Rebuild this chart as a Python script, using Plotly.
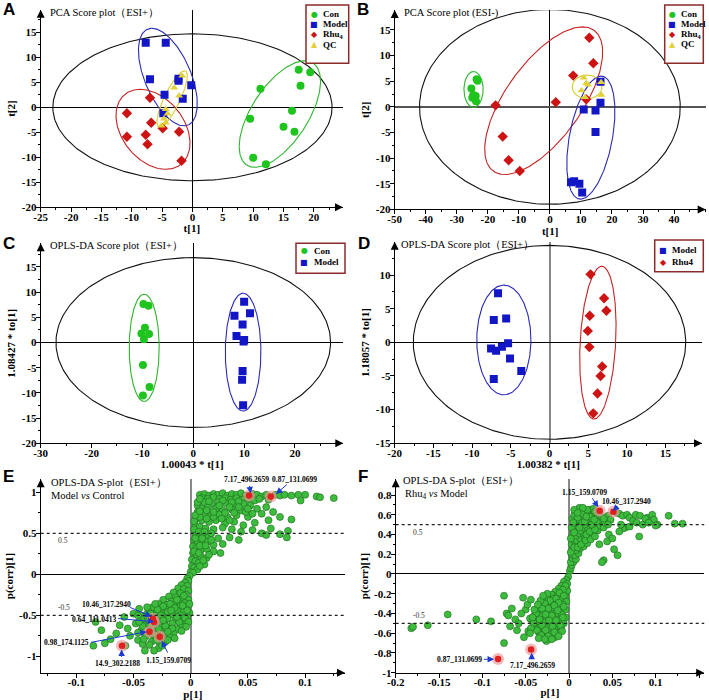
import numpy as np
import plotly.graph_objects as go

W, H = 709, 700
SERIF = "Liberation Serif"

# ---------------- A: PCA score plot (ESI+) ----------------
a_con_x = [17.5, 19.4, 11.2, 17.8, 16.4, 9.5, 15.0, 16.8, 10.0, 12.1]
a_con_y = [7.5, 7.0, 3.7, 4.3, -0.7, -2.3, -3.9, -4.9, -10.1, -11.4]
a_model_x = [-7.7, -4.4, -7.0, -2.3, -2.3, -0.2, -4.6, -1.6, -4.8]
a_model_y = [12.9, 12.9, 5.6, 5.3, 5.7, 4.4, 2.5, 1.7, -1.2]
a_rhu_x = [-7.0, -10.8, -6.8, -10.8, -7.7, -7.4, -4.9, -2.2, -1.8]
a_rhu_y = [1.9, -1.2, -3.1, -5.9, -5.5, -7.4, -4.2, -4.9, -10.7]
a_qc_x = [-1.7, -3.0, -2.2, -4.4, -4.1, -4.4, -5.1, -4.7]
a_qc_y = [6.3, 3.9, 2.3, -0.4, -1.3, -3.1, -3.7, -2.3]
# confidence ellipses: group, centre x, centre y, half width, half height, x offset of top point
a_ell = [("T2", 0, 0, 23, 14.7, 0), ("Con", 14.4, -1.35, 6.7, 10.65, 4.1),
         ("Model", -4.05, 6.05, 4.85, 9.75, -2.65), ("Rhu4", -6.5, -4.4, 6.1, 8.0, -2.1),
         ("QC", -3.35, 1.65, 2.5, 5.65, 2.05)]

# ---------------- B: PCA score plot (ESI-) ----------------
b_con_x = [-23.6, -23.3, -25.3, -24.7, -23.9, -25.0, -23.8]
b_con_y = [5.4, 5.1, 3.6, 2.3, 2.1, 1.8, 1.1]
b_model_x = [16.3, 16.3, 10.9, 14.7, 14.7, 6.8, 7.8, 9.5, 10.4]
b_model_y = [4.9, 0.8, -0.5, -0.7, -4.9, -14.7, -14.5, -15.0, -16.7]
b_rhu_x = [12.7, 14.0, 7.5, 1.9, 11.7, -17.5, -15.2, -13.3, -9.7]
b_rhu_y = [13.5, 8.5, 6.1, 0.9, 1.5, 0.3, -5.8, -10.4, -12.5]
b_qc_x = [10.9, 11.7, 12.3, 10.2, 16.6, 16.5, 11.3]
b_qc_y = [5.7, 4.6, 4.3, 3.2, 2.3, 4.8, 1.9]
b_ell = [("T2", 0, 0, 42, 19, 0), ("Con", -24.6, 3.4, 3.1, 3.5, 0),
         ("Rhu4", -2.0, 1.2, 19, 14.4, 12.5), ("Model", 13.2, -6.0, 7.75, 12, 3.3),
         ("QC", 12, 3.9, 4.8, 2.3, 0)]

# ---------------- C: OPLS-DA Con vs Model ----------------
c_con_x = [-9.8, -8.8, -9.5, -10.2, -8.7, -9.7, -9.9, -8.6, -9.9]
c_con_y = [7.65, 7.3, 2.95, 1.8, 1.7, 0.65, -4.45, -8.8, -10.5]
c_model_x = [10.0, 8.1, 11.15, 9.7, 8.5, 10.0, 9.9, 9.7, 9.6, 9.8]
c_model_y = [8.1, 5.3, 5.8, 3.6, 1.3, 0.5, 0.2, -5.65, -7.4, -12.45]
c_ell = [("T2", 0, 0, 27, 16.85, 0), ("Con", -9.65, -1.05, 2.95, 10.65, 0),
         ("Model", 9.8, -1.9, 3.5, 11.7, 0)]

# ---------------- D: OPLS-DA Model vs Rhu4 ----------------
d_model_x = [-6.65, -7.2, -5.6, -5.35, -6.15, -6.9, -7.55, -5.1, -3.65, -7.2]
d_model_y = [7.3, 3.3, 3.55, -0.15, -0.65, -1.25, -0.9, -2.4, -4.25, -5.45]
d_rhu_x = [5.3, 7.05, 7.35, 5.2, 4.95, 5.15, 6.8, 6.6, 6.2, 5.65]
d_rhu_y = [10.1, 6.55, 4.7, 3.95, 1.7, -0.7, -3.6, -5.0, -7.6, -10.55]
d_ell = [("T2", 0, 0, 17.6, 14.4, 0), ("Model", -5.9, 0.35, 3.5, 8.15, 0),
         ("Rhu4", 6.25, -0.05, 2.35, 11.35, 0.5)]

# ---------------- E: S-plot Model vs Control ----------------
e_pts = [
    (0.008, 0.97), (0.012, 0.98), (0.016, 0.96), (0.02, 0.98), (0.024, 0.97), (0.028, 0.99),
    (0.032, 0.96), (0.036, 0.98), (0.04, 0.97), (0.044, 0.99), (0.048, 0.96), (0.054, 0.98),
    (0.058, 0.97), (0.062, 0.95), (0.066, 0.97), (0.074, 0.97), (0.078, 0.96), (0.082, 0.97),
    (0.088, 0.96), (0.094, 0.97), (0.1, 0.97), (0.11, 0.95), (0.113, 0.94), (0.125, 0.93),
    (0.096, 0.9), (0.01, 0.93), (0.015, 0.92), (0.02, 0.94), (0.025, 0.92), (0.03, 0.93),
    (0.035, 0.91), (0.04, 0.93), (0.045, 0.91), (0.05, 0.92), (0.056, 0.9), (0.06, 0.92),
    (0.068, 0.91), (0.012, 0.88), (0.018, 0.86), (0.024, 0.88), (0.03, 0.87), (0.038, 0.85),
    (0.046, 0.86), (0.052, 0.84), (0.006, 0.84), (0.01, 0.8), (0.015, 0.82), (0.022, 0.8),
    (0.028, 0.78), (0.036, 0.79), (0.044, 0.78), (0.058, 0.8), (0.066, 0.82), (0.006, 0.76),
    (0.012, 0.74), (0.018, 0.72), (0.025, 0.73), (0.032, 0.7), (0.04, 0.72), (0.05, 0.7),
    (0.062, 0.74), (0.072, 0.76), (0.005, 0.68), (0.01, 0.66), (0.016, 0.64), (0.022, 0.66),
    (0.03, 0.62), (0.038, 0.64), (0.046, 0.6), (0.056, 0.63), (0.068, 0.66), (0.078, 0.7),
    (0.088, 0.67), (0.004, 0.6), (0.008, 0.58), (0.013, 0.56), (0.02, 0.55), (0.028, 0.57),
    (0.036, 0.55), (0.044, 0.52), (0.054, 0.54), (0.062, 0.5), (0.07, 0.56), (0.078, 0.49),
    (0.085, 0.53), (0.084, 0.45), (0.066, 0.48), (0.004, 0.5), (0.007, 0.47), (0.011, 0.48),
    (0.016, 0.46), (0.024, 0.44), (0.034, 0.45), (0.042, 0.42), (0.003, 0.42), (0.006, 0.4),
    (0.01, 0.38), (0.015, 0.4), (0.02, 0.36), (0.028, 0.37), (0.002, 0.34), (0.005, 0.32),
    (0.009, 0.3), (0.014, 0.31), (0.02, 0.28), (0.026, 0.26), (0.002, 0.26), (0.005, 0.24),
    (0.009, 0.22), (0.014, 0.2), (0.001, 0.18), (0.004, 0.16), (0.007, 0.14), (0.012, 0.12),
    (0.001, 0.1), (0.003, 0.08), (0.006, 0.06), (0.0, 0.03), (0.002, 0.02),
    (0.003, 0.55), (0.007, 0.52), (0.012, 0.52), (0.018, 0.5), (0.003, 0.65), (0.008, 0.7),
    (0.014, 0.68), (0.02, 0.7), (0.027, 0.68), (0.034, 0.66), (0.004, 0.72), (0.008, 0.77),
    (0.014, 0.78), (0.02, 0.76), (0.03, 0.75), (0.038, 0.75), (0.048, 0.76), (0.054, 0.74),
    (0.006, 0.88), (0.008, 0.92), (0.016, 0.89), (0.028, 0.9), (0.036, 0.88), (0.042, 0.89),
    (0.034, 0.82), (0.042, 0.82), (0.05, 0.8), (0.025, 0.84), (0.004, 0.44), (0.01, 0.44),
    (0.018, 0.42), (0.008, 0.35), (0.013, 0.35), (0.003, 0.28), (0.007, 0.26), (0.011, 0.17),
    (0.008, 0.1), (0.016, 0.24),
    (-0.001, -0.02), (-0.003, -0.05), (-0.002, -0.08), (-0.005, -0.1), (-0.008, -0.13),
    (-0.003, -0.14), (-0.011, -0.17), (-0.006, -0.18), (-0.002, -0.2), (-0.015, -0.22),
    (-0.009, -0.23), (-0.004, -0.25), (-0.019, -0.27), (-0.013, -0.28), (-0.007, -0.29),
    (-0.002, -0.31), (-0.024, -0.31), (-0.017, -0.33), (-0.011, -0.34), (-0.005, -0.35),
    (-0.028, -0.36), (-0.021, -0.37), (-0.015, -0.38), (-0.009, -0.39), (-0.003, -0.4),
    (-0.033, -0.4), (-0.026, -0.42), (-0.019, -0.43), (-0.012, -0.44), (-0.006, -0.45),
    (-0.001, -0.47), (-0.037, -0.45), (-0.03, -0.47), (-0.023, -0.48), (-0.016, -0.49),
    (-0.009, -0.5), (-0.003, -0.52), (-0.04, -0.5), (-0.034, -0.52), (-0.027, -0.53),
    (-0.02, -0.54), (-0.013, -0.55), (-0.006, -0.56), (-0.043, -0.55), (-0.037, -0.57),
    (-0.03, -0.58), (-0.023, -0.6), (-0.016, -0.6), (-0.009, -0.61), (-0.04, -0.62),
    (-0.033, -0.64), (-0.026, -0.65), (-0.019, -0.66), (-0.012, -0.67), (-0.043, -0.68),
    (-0.036, -0.7), (-0.029, -0.71), (-0.022, -0.72), (-0.015, -0.72), (-0.039, -0.75),
    (-0.032, -0.77), (-0.025, -0.78), (-0.018, -0.76), (-0.034, -0.82), (-0.027, -0.84),
    (-0.022, -0.82), (-0.028, -0.9), (-0.045, -0.42), (-0.05, -0.48), (-0.048, -0.6),
    (-0.055, -0.66), (-0.053, -0.75), (-0.046, -0.8), (-0.042, -0.85), (-0.058, -0.52),
    (-0.062, -0.62), (-0.065, -0.72), (-0.07, -0.79), (-0.075, -0.84), (-0.085, -0.87),
    (-0.083, -0.58), (-0.078, -0.68), (-0.057, -0.87), (-0.04, -0.93),
    (-0.006, -0.26), (-0.012, -0.31), (-0.018, -0.36), (-0.024, -0.39), (-0.029, -0.43),
    (-0.035, -0.48), (-0.014, -0.41), (-0.02, -0.46), (-0.026, -0.5), (-0.031, -0.55),
    (-0.036, -0.61), (-0.042, -0.63), (-0.046, -0.71), (-0.028, -0.67), (-0.022, -0.63),
    (-0.016, -0.66), (-0.01, -0.58), (-0.005, -0.53), (-0.003, -0.44), (-0.007, -0.38),
    (-0.045, -0.58), (-0.041, -0.79), (-0.036, -0.86), (-0.03, -0.8), (-0.02, -0.7),
    (-0.012, -0.52), (-0.017, -0.44), (-0.024, -0.56), (-0.032, -0.73), (-0.025, -0.87),
    (-0.032, -0.93), (-0.046, -0.5), (-0.038, -0.4), (-0.031, -0.36), (-0.001, -0.36),
    (-0.002, -0.58), (-0.004, -0.64), (-0.008, -0.69), (-0.014, -0.78), (-0.02, -0.8),
]
e_red_x = [0.051, 0.070, -0.033, -0.032, -0.036, -0.027, -0.060]
e_red_y = [0.96, 0.95, -0.54, -0.58, -0.70, -0.76, -0.87]
# label, text x, text y, arrow tail x, tail y, head x, head y
e_labels = [
    ("7.17_496.2659", 0.0489, 1.159, 0.0512, 1.098, 0.0524, 0.988),
    ("0.87_131.0699", 0.0911, 1.159, 0.0853, 1.11, 0.0745, 0.98),
    ("10.46_317.2940", -0.0734, -0.362, -0.0544, -0.394, -0.0341, -0.516),
    ("0.64_111.0413", -0.0844, -0.549, -0.0646, -0.537, -0.032, -0.577),
    ("0.98_174.1125", -0.1083, -0.833, -0.0885, -0.833, -0.0384, -0.699),
    ("14.9_302.2188", -0.064, -1.085, -0.0603, -1.024, -0.0603, -0.915),
    ("1.15_159.0709", -0.0195, -1.045, -0.0195, -0.972, -0.0253, -0.809),
]

# ---------------- F: S-plot Rhu4 vs Model ----------------
f_pts = [
    (0.001, 0.03), (0.002, 0.06), (0.003, 0.09), (0.005, 0.12), (0.002, 0.12), (0.004, 0.16),
    (0.008, 0.15), (0.003, 0.2), (0.007, 0.19), (0.011, 0.21), (0.004, 0.25), (0.008, 0.24),
    (0.013, 0.26), (0.017, 0.28), (0.003, 0.3), (0.007, 0.29), (0.011, 0.31), (0.015, 0.32),
    (0.021, 0.31), (0.005, 0.35), (0.009, 0.34), (0.013, 0.36), (0.018, 0.37), (0.024, 0.38),
    (0.004, 0.4), (0.008, 0.39), (0.012, 0.41), (0.016, 0.42), (0.021, 0.43), (0.027, 0.41),
    (0.005, 0.45), (0.009, 0.46), (0.013, 0.44), (0.017, 0.47), (0.022, 0.46), (0.028, 0.47),
    (0.033, 0.44), (0.006, 0.5), (0.01, 0.49), (0.014, 0.51), (0.018, 0.5), (0.023, 0.52),
    (0.029, 0.51), (0.035, 0.49), (0.04, 0.47), (0.007, 0.54), (0.011, 0.55), (0.015, 0.53),
    (0.02, 0.56), (0.025, 0.55), (0.03, 0.57), (0.036, 0.55), (0.042, 0.52), (0.008, 0.59),
    (0.012, 0.6), (0.017, 0.58), (0.022, 0.61), (0.027, 0.59), (0.033, 0.6), (0.009, 0.63),
    (0.014, 0.64), (0.019, 0.63), (0.024, 0.65), (0.012, 0.67), (0.028, 0.66), (0.045, 0.59),
    (0.048, 0.55), (0.046, 0.4), (0.044, 0.33), (0.05, 0.36), (0.052, 0.25), (0.056, 0.19),
    (0.04, 0.14), (0.038, 0.12), (0.035, 0.3), (0.055, 0.62), (0.058, 0.61), (0.062, 0.59),
    (0.067, 0.6), (0.07, 0.57), (0.074, 0.54), (0.077, 0.6), (0.082, 0.59), (0.078, 0.52),
    (0.085, 0.5), (0.065, 0.47), (0.07, 0.48), (0.062, 0.46), (0.058, 0.43), (0.06, 0.5),
    (0.09, 0.57), (0.096, 0.6), (0.098, 0.55), (0.102, 0.5), (0.1, 0.49), (0.088, 0.56),
    (0.115, 0.59), (0.122, 0.51), (0.131, 0.51), (0.081, 0.38), (0.092, 0.52),
    (0.002, 0.22), (0.006, 0.27), (0.01, 0.27), (0.014, 0.3), (0.019, 0.34), (0.025, 0.35),
    (0.03, 0.38), (0.02, 0.4), (0.024, 0.43), (0.03, 0.45), (0.026, 0.5), (0.032, 0.53),
    (0.038, 0.58), (0.004, 0.56), (0.006, 0.6), (0.01, 0.57), (0.016, 0.61), (0.021, 0.65),
    (0.03, 0.63), (0.035, 0.62), (0.04, 0.56), (0.045, 0.5), (0.003, 0.47), (0.005, 0.52),
    (0.002, 0.36), (0.006, 0.42), (0.012, 0.47), (0.018, 0.53), (0.024, 0.58), (0.006, 0.65),
    (0.016, 0.67), (0.01, 0.62), (0.02, 0.58), (0.029, 0.55),
    (-0.001, -0.03), (-0.003, -0.06), (-0.006, -0.08), (-0.002, -0.1), (-0.009, -0.12),
    (-0.005, -0.14), (-0.012, -0.15), (-0.002, -0.17), (-0.016, -0.18), (-0.008, -0.19),
    (-0.02, -0.21), (-0.013, -0.22), (-0.004, -0.23), (-0.025, -0.24), (-0.018, -0.25),
    (-0.01, -0.26), (-0.003, -0.28), (-0.03, -0.28), (-0.022, -0.29), (-0.015, -0.3),
    (-0.007, -0.31), (-0.034, -0.32), (-0.027, -0.33), (-0.019, -0.34), (-0.011, -0.35),
    (-0.004, -0.36), (-0.037, -0.37), (-0.03, -0.38), (-0.023, -0.39), (-0.015, -0.4),
    (-0.008, -0.41), (-0.04, -0.42), (-0.033, -0.43), (-0.026, -0.44), (-0.018, -0.45),
    (-0.01, -0.46), (-0.004, -0.44), (-0.043, -0.47), (-0.036, -0.48), (-0.029, -0.49),
    (-0.021, -0.5), (-0.013, -0.51), (-0.006, -0.5), (-0.04, -0.53), (-0.033, -0.54),
    (-0.025, -0.55), (-0.017, -0.56), (-0.009, -0.55), (-0.035, -0.59), (-0.028, -0.6),
    (-0.02, -0.61), (-0.013, -0.6), (-0.03, -0.64), (-0.023, -0.66), (-0.016, -0.64),
    (-0.026, -0.68), (-0.182, -0.55), (-0.18, -0.535), (-0.163, -0.52), (-0.14, -0.41),
    (-0.107, -0.46), (-0.09, -0.48), (-0.075, -0.22), (-0.072, -0.4), (-0.07, -0.42),
    (-0.066, -0.35), (-0.062, -0.46), (-0.053, -0.24), (-0.075, -0.7), (-0.05, -0.36),
    (-0.058, -0.5), (-0.068, -0.53), (-0.06, -0.57), (-0.052, -0.64), (-0.047, -0.58),
    (-0.045, -0.45), (-0.048, -0.31), (-0.044, -0.26), (-0.055, -0.4),
    (-0.004, -0.12), (-0.007, -0.16), (-0.011, -0.19), (-0.006, -0.22), (-0.015, -0.25),
    (-0.022, -0.27), (-0.028, -0.3), (-0.012, -0.29), (-0.017, -0.32), (-0.024, -0.35),
    (-0.031, -0.35), (-0.038, -0.4), (-0.006, -0.33), (-0.013, -0.37), (-0.02, -0.42),
    (-0.027, -0.41), (-0.034, -0.46), (-0.041, -0.5), (-0.007, -0.44), (-0.015, -0.47),
    (-0.023, -0.47), (-0.031, -0.52), (-0.037, -0.57), (-0.044, -0.55), (-0.01, -0.52),
    (-0.019, -0.53), (-0.027, -0.57), (-0.032, -0.62), (-0.024, -0.63), (-0.017, -0.59),
    (-0.008, -0.58), (-0.02, -0.66), (-0.028, -0.66), (-0.035, -0.65), (-0.012, -0.63),
    (-0.042, -0.44), (-0.04, -0.36), (-0.033, -0.27), (-0.036, -0.31), (-0.025, -0.2),
    (-0.03, -0.22), (-0.045, -0.6),
]
f_red_x = [0.0354, 0.0512, -0.0819, -0.0438]
f_red_y = [0.641, 0.631, -0.861, -0.766]
f_labels = [
    ("1.15_159.0709", 0.018, 0.824, 0.0258, 0.783, 0.0338, 0.675),
    ("10.46_317.2940", 0.0665, 0.733, 0.0577, 0.699, 0.0504, 0.638),
    ("0.87_131.0699", -0.1269, -0.864, -0.1, -0.864, -0.0865, -0.864),
    ("7.17_496.2659", -0.0423, -0.922, -0.0431, -0.878, -0.0431, -0.797),
]

# tick values
a_xt = [-25, -20, -15, -10, -5, 0, 5, 10, 15, 20]
a_yt = [-20, -15, -10, -5, 0, 5, 10, 15]
b_xt = [-50, -40, -30, -20, -10, 0, 10, 20, 30, 40]
b_yt = [-20, -15, -10, -5, 0, 5, 10, 15]
c_xt = [-30, -20, -10, 0, 10, 20]
c_yt = [-20, -15, -10, -5, 0, 5, 10, 15]
d_xt = [-20, -15, -10, -5, 0, 5, 10, 15]
d_yt = [-15, -10, -5, 0, 5, 10]
e_xt = [-0.1, -0.05, 0, 0.05, 0.1]
e_yt = [-1, -0.5, 0, 0.5, 1]
f_xt = [-0.2, -0.15, -0.1, -0.05, 0, 0.05, 0.1, 0.15]
f_yt = [-1, -0.8, -0.6, -0.4, -0.2, 0, 0.2, 0.4, 0.6, 0.8]

COL = {"Con": "#1fc41f", "Model": "#1216c4", "Rhu4": "#cc1414", "QC": "#e0d238"}
ECOL = {"T2": "#111111", "Con": "#2bb52b", "Model": "#2a2ab5", "Rhu4": "#c42424", "QC": "#d9cb2c"}
SYM = {"Con": "circle", "Model": "square", "Rhu4": "diamond", "QC": "triangle-up"}
GLYPH = {"Con": "●", "Model": "■", "Rhu4": "◆", "QC": "▲"}
LEG_NAME = {"Con": "Con", "Model": "Model", "Rhu4": "Rhu<sub>4</sub>", "QC": "QC"}

# panel boxes in pixels: left, right, top, bottom
panels = [
    dict(key="A", box=(40.7, 343, 9.8, 207.3), xr=[-25, 24.8], yr=[-20, 19.5], xt=a_xt, yt=a_yt,
         xm=2.5, ym=2.5, xtitle="t[1]", ytitle="t[2]", vz=("black", 1), hz=("black", 1), let=(0.5, 9.5)),
    dict(key="B", box=(394.7, 705.7, 10, 209.4), xr=[-50, 50.2], yr=[-20, 18.9], xt=b_xt, yt=b_yt,
         xm=5, ym=2.5, xtitle="t[1]", ytitle="t[2]", vz=("black", 1), hz=("#555", 1.6), let=(354.5, 9.5)),
    dict(key="C", box=(40.7, 343.3, 243.3, 443.3), xr=[-30, 29.5], yr=[-20, 19.7], xt=c_xt, yt=c_yt,
         xm=5, ym=2.5, xtitle="1.00043 * t[1]", ytitle="1.08427 * to[1]", vz=("black", 1), hz=("black", 1),
         let=(0.5, 243.5)),
    dict(key="D", box=(394.7, 702, 241.7, 443.3), xr=[-20, 19.7], yr=[-15, 14.95], xt=d_xt, yt=d_yt,
         xm=2.5, ym=2.5, xtitle="1.00382 * t[1]", ytitle="1.18057 * to[1]", vz=("#888", 2), hz=("black", 1),
         let=(355.5, 243.5)),
    dict(key="E", box=(40.7, 345, 479.3, 672.7), xr=[-0.131, 0.1348], yr=[-1.199, 1.159], xt=e_xt, yt=e_yt,
         xm=0.025, ym=0.25, xtitle="p[1]", ytitle="p(corr)[1]", vz=("#888", 2), hz=("black", 1),
         let=(0.5, 476.5)),
    dict(key="F", box=(395.7, 704.2, 479.3, 672.7), xr=[-0.2, 0.156], yr=[-1, 0.959], xt=f_xt, yt=f_yt,
         xm=0.025, ym=0.1, xtitle="p[1]", ytitle="p(corr)[1]", vz=("#888", 2), hz=("black", 1),
         let=(355.5, 476.5)),
]


def ellipse(cx, cy, hx, hy, dx, n=241):
    t = np.linspace(0, 2 * np.pi, n)
    lx = np.sqrt(hx ** 2 - dx ** 2)
    return cx + dx * np.cos(t) + lx * np.sin(t), cy + hy * np.cos(t)


def px_x(p):
    return p / W


def px_y(p):
    return 1 - p / H


fig = go.Figure()
layout = dict(width=W, height=H, margin=dict(l=0, r=0, t=0, b=0, autoexpand=False), showlegend=False,
              plot_bgcolor="white", paper_bgcolor="white", annotations=[], shapes=[])

for i, p in enumerate(panels, start=1):
    sfx = "" if i == 1 else str(i)
    l, r, t, b = p["box"]
    tfont = dict(family=SERIF, size=11, color="black", weight="bold")
    common = dict(tickmode="array", ticks="outside", ticklen=4, tickwidth=1, tickcolor="black",
                  showline=True, linecolor="black", linewidth=1, showgrid=False, zeroline=True,
                  tickfont=tfont, fixedrange=True, automargin=False)
    layout["xaxis" + sfx] = dict(
        common, domain=[px_x(l), px_x(r)], range=p["xr"], anchor="y" + sfx,
        tickvals=p["xt"], ticktext=[f"{v:g}" for v in p["xt"]], ticklabelstandoff=-5,
        minor=dict(ticks="outside", ticklen=2, tickcolor="black", tickmode="linear",
                   tick0=p["xt"][0], dtick=p["xm"]),
        zerolinecolor=p["vz"][0], zerolinewidth=p["vz"][1],
        title=dict(text=p["xtitle"], font=tfont, standoff=1))
    layout["yaxis" + sfx] = dict(
        common, domain=[px_y(b), px_y(t)], range=p["yr"], anchor="x" + sfx,
        tickvals=p["yt"], ticktext=[f"{v:g}" for v in p["yt"]], ticklabelstandoff=-3,
        minor=dict(ticks="outside", ticklen=2, tickcolor="black", tickmode="linear",
                   tick0=p["yt"][0], dtick=p["ym"]),
        zerolinecolor=p["hz"][0], zerolinewidth=p["hz"][1],
        title=dict(text=p["ytitle"], font=tfont, standoff=3))
    # axis arrow heads
    for (x, y, ax, ay) in [(p["xr"][1], p["yr"][0], -10, 0), (p["xr"][0], p["yr"][1], 0, 10)]:
        layout["annotations"].append(dict(
            x=x, y=y, xref="x" + sfx, yref="y" + sfx, ax=ax, ay=ay, text="", showarrow=True,
            arrowhead=2, arrowsize=1.6, arrowwidth=1, arrowcolor="black"))
    # panel letter
    layout["annotations"].append(dict(
        x=px_x(p["let"][0]), y=px_y(p["let"][1]), xref="paper", yref="paper",
        text="<b>%s</b>" % p["key"], showarrow=False, xanchor="left", yanchor="middle",
        font=dict(family="Liberation Sans", size=17, color="black")))
    p["sfx"] = sfx

# score plots
score_data = [
    (1, {"Con": (a_con_x, a_con_y), "Model": (a_model_x, a_model_y),
         "Rhu4": (a_rhu_x, a_rhu_y), "QC": (a_qc_x, a_qc_y)}, a_ell),
    (2, {"Con": (b_con_x, b_con_y), "Model": (b_model_x, b_model_y),
         "Rhu4": (b_rhu_x, b_rhu_y), "QC": (b_qc_x, b_qc_y)}, b_ell),
    (3, {"Con": (c_con_x, c_con_y), "Model": (c_model_x, c_model_y)}, c_ell),
    (4, {"Model": (d_model_x, d_model_y), "Rhu4": (d_rhu_x, d_rhu_y)}, d_ell),
]
SIZE = {"Con": 8, "Model": 8, "Rhu4": 8, "QC": 7}
for idx, groups, ells in score_data:
    sfx = panels[idx - 1]["sfx"]
    for g, cx, cy, hx, hy, dx in ells:
        ex, ey = ellipse(cx, cy, hx, hy, dx)
        fig.add_trace(go.Scatter(x=ex, y=ey, mode="lines", line=dict(color=ECOL[g], width=1.1),
                                 xaxis="x" + sfx, yaxis="y" + sfx, hoverinfo="skip"))
    for g in ["Con", "Model", "Rhu4", "QC"]:
        if g in groups:
            gx, gy = groups[g]
            fig.add_trace(go.Scatter(x=gx, y=gy, mode="markers", name=g,
                                     marker=dict(symbol=SYM[g], size=SIZE[g], color=COL[g], line=dict(width=0)),
                                     xaxis="x" + sfx, yaxis="y" + sfx))

# legends (boxes drawn in pixel space)
legends = [
    (["Con", "Model", "Rhu4", "QC"], (306, 348.7, 5, 63.3), 314, 320.5, 14, 10.2),
    (["Con", "Model", "Rhu4", "QC"], (664.7, 703.3, 5, 63.3), 672.3, 678.5, 14, 10.1),
    (["Con", "Model"], (296, 345, 243.3, 273.3), 304.3, 311.5, 251, 11.3),
    (["Model", "Rhu4"], (654.7, 703.3, 240, 271.7), 663.3, 670, 250, 12.3),
]
for li, (items, (x0, x1, y0, y1), sx, tx, yf, step) in enumerate(legends):
    layout["shapes"].append(dict(type="rect", xref="paper", yref="paper", x0=px_x(x0), x1=px_x(x1),
                                 y0=px_y(y1), y1=px_y(y0), line=dict(color="#8b2a2a", width=1.5),
                                 fillcolor="white"))
    for k, g in enumerate(items):
        yy = px_y(yf + k * step)
        layout["annotations"].append(dict(
            x=px_x(sx), y=yy, xref="paper", yref="paper", text=GLYPH[g], showarrow=False,
            xanchor="center", yanchor="middle", font=dict(family="DejaVu Sans", size=8, color=COL[g])))
        name = "Rhu4" if (g == "Rhu4" and li == 3) else LEG_NAME[g]
        layout["annotations"].append(dict(
            x=px_x(tx), y=yy, xref="paper", yref="paper", text="<b>%s</b>" % name, showarrow=False,
            xanchor="left", yanchor="middle", font=dict(family=SERIF, size=9, color="black")))

# S-plots
for idx, pts, rx, ry, labels in [(5, e_pts, e_red_x, e_red_y, e_labels),
                                  (6, f_pts, f_red_x, f_red_y, f_labels)]:
    sfx = panels[idx - 1]["sfx"]
    px_, py_ = zip(*pts)
    fig.add_trace(go.Scatter(x=px_, y=py_, mode="markers",
                             marker=dict(size=7, color="#3dbb3d", line=dict(color="#1c6a1c", width=0.6)),
                             xaxis="x" + sfx, yaxis="y" + sfx))
    fig.add_trace(go.Scatter(x=rx, y=ry, mode="markers",
                             marker=dict(size=12, color="rgba(236,150,150,0.65)", line=dict(width=0)),
                             xaxis="x" + sfx, yaxis="y" + sfx))
    fig.add_trace(go.Scatter(x=rx, y=ry, mode="markers",
                             marker=dict(size=6.5, color="#e01f1f", line=dict(width=0)),
                             xaxis="x" + sfx, yaxis="y" + sfx))
    for text, lx, ly, ax_, ay_, hx_, hy_ in labels:
        layout["annotations"].append(dict(
            x=hx_, y=hy_, ax=ax_, ay=ay_, xref="x" + sfx, yref="y" + sfx, axref="x" + sfx, ayref="y" + sfx,
            text="", showarrow=True, arrowhead=2, arrowsize=1.3, arrowwidth=1, arrowcolor="#1a3ad0"))
        layout["annotations"].append(dict(
            x=lx, y=ly, xref="x" + sfx, yref="y" + sfx, text="<b>%s</b>" % text, showarrow=False,
            xanchor="center", yanchor="middle", font=dict(family=SERIF, size=7.5, color="black")))
    for yv in (0.5, -0.5):
        layout["shapes"].append(dict(type="line", xref="x%s domain" % sfx, yref="y" + sfx, x0=0, x1=1,
                                     y0=yv, y1=yv, line=dict(color="#222", width=1.4, dash="dot")))
    lx0 = panels[idx - 1]["xr"][0]
    span = panels[idx - 1]["xr"][1] - lx0
    for yv, lab in ((0.5, "0.5"), (-0.5, "-0.5")):
        layout["annotations"].append(dict(
            x=lx0 + span * 0.05, y=yv, xref="x" + sfx, yref="y" + sfx, text=lab, showarrow=False,
            xanchor="left", yanchor="top" if yv > 0 else "bottom", yshift=-1 if yv > 0 else 1,
            font=dict(family=SERIF, size=7.5, color="#333")))

# in-plot titles
titles = [
    ("PCA Score plot（ESI+）", 48, 12.7),
    ("PCA Score plot (ESI-)", 402, 12.7),
    ("OPLS-DA Score plot（ESI+）", 48, 245.7),
    ("OPLS-DA Score plot（ESI+）", 399, 245),
    ("OPLS-DA S-plot（ESI+）", 49, 482.3),
    ("Model <i>vs</i> Control", 49, 495.5),
    ("OPLS-DA S-plot（ESI+）", 400.7, 480.7),
    ("Rhu<sub>4</sub> <i>vs</i> Model", 403, 494.5),
]
for text, x, y in titles:
    layout["annotations"].append(dict(
        x=px_x(x), y=px_y(y), xref="paper", yref="paper", text=text, showarrow=False,
        xanchor="left", yanchor="middle", font=dict(family=SERIF, size=10.5, color="black")))

fig.update_layout(**layout)
fig.write_html("out.html", config={"displayModeBar": False},
               post_script="document.body.style.margin='0';")
